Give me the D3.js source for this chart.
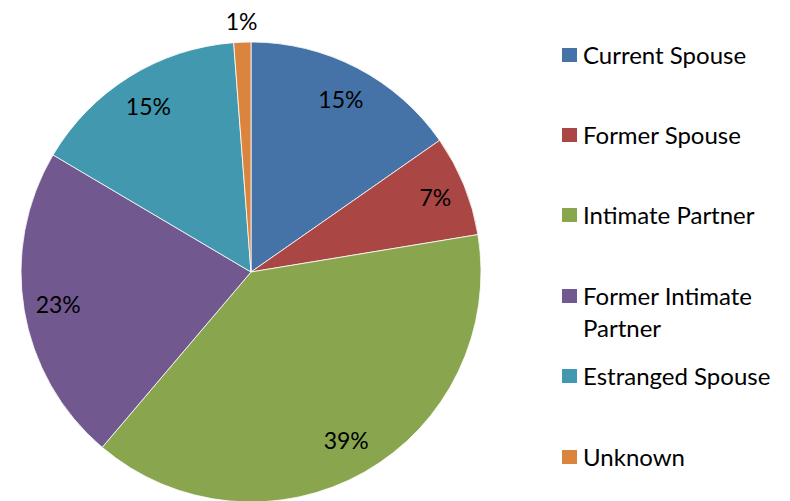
<!DOCTYPE html>
<html lang="en">
<head>
<meta charset="UTF-8">
<title>Relationship pie</title>
<script src="https://cdn.jsdelivr.net/npm/d3@7"></script>
<style>
  body { margin: 0; background: #fff; }
  svg { display: block; font-family: Lato, "Open Sans", sans-serif; }
</style>
</head>
<body>
<script>
// data (shares in %)
var categories = ['Current Spouse', 'Former Spouse', 'Intimate Partner', 'Former Intimate Partner', 'Estranged Spouse', 'Unknown'];
var shares = [15.3, 7.1, 38.8, 22.3, 15.3, 1.2];
var labels = ['15%', '7%', '39%', '23%', '15%', '1%'];
var colors = ['#4572A7', '#AA4643', '#89A54E', '#71588F', '#4198AF', '#DB843D'];

var width = 790, height = 501;
var cx = 251, cy = 272, R = 230;

var svg = d3.select('body').append('svg')
    .attr('width', width)
    .attr('height', height);

var rows = categories.map(function(c, i) {
    return { name: c, value: shares[i], label: labels[i], color: colors[i] };
});

var pie = d3.pie().sort(null).value(function(d) { return d.value; });
var arcs = pie(rows);
var arc = d3.arc().innerRadius(0).outerRadius(R);

var g = svg.append('g').attr('transform', 'translate(' + cx + ',' + cy + ')');

g.selectAll('path')
    .data(arcs)
    .enter()
    .append('path')
    .attr('d', arc)
    .attr('fill', function(d) { return d.data.color; })
    .attr('stroke', '#fff')
    .attr('stroke-width', 0.8);

// label distance from centre, as a fraction of the radius (Excel's best-fit)
var labelR = [0.845, 0.865, 0.84, 0.85, 0.845, 1.09];
g.selectAll('text.lbl')
    .data(arcs)
    .enter()
    .append('text')
    .attr('class', 'lbl')
    .attr('x', function(d, i) {
        var a = (d.startAngle + d.endAngle) / 2;
        return Math.sin(a) * R * labelR[i];
    })
    .attr('y', function(d, i) {
        var a = (d.startAngle + d.endAngle) / 2;
        return -Math.cos(a) * R * labelR[i] + 8.5;
    })
    .attr('text-anchor', 'middle')
    .attr('font-size', 23)
    .attr('fill', '#000')
    .text(function(d) { return d.data.label; });

// legend
var legendY = [55, 135, 215, 296, 376, 457];
var lg = svg.append('g').attr('transform', 'translate(562,0)');
var item = lg.selectAll('g.item')
    .data(rows)
    .enter()
    .append('g')
    .attr('class', 'item')
    .attr('transform', function(d, i) { return 'translate(0,' + legendY[i] + ')'; });

item.append('rect')
    .attr('x', 0)
    .attr('y', -7)
    .attr('width', 15)
    .attr('height', 14)
    .attr('fill', function(d) { return d.color; });

item.each(function(d) {
    var t = d3.select(this).append('text')
        .attr('x', 21)
        .attr('y', 8.5)
        .attr('font-size', 24)
        .attr('fill', '#000');
    if (d.name === 'Former Intimate Partner') {
        t.append('tspan').attr('x', 21).attr('dy', 0).text('Former Intimate');
        t.append('tspan').attr('x', 21).attr('dy', 32).text('Partner');
    } else {
        t.text(d.name);
    }
});
</script>
</body>
</html>
